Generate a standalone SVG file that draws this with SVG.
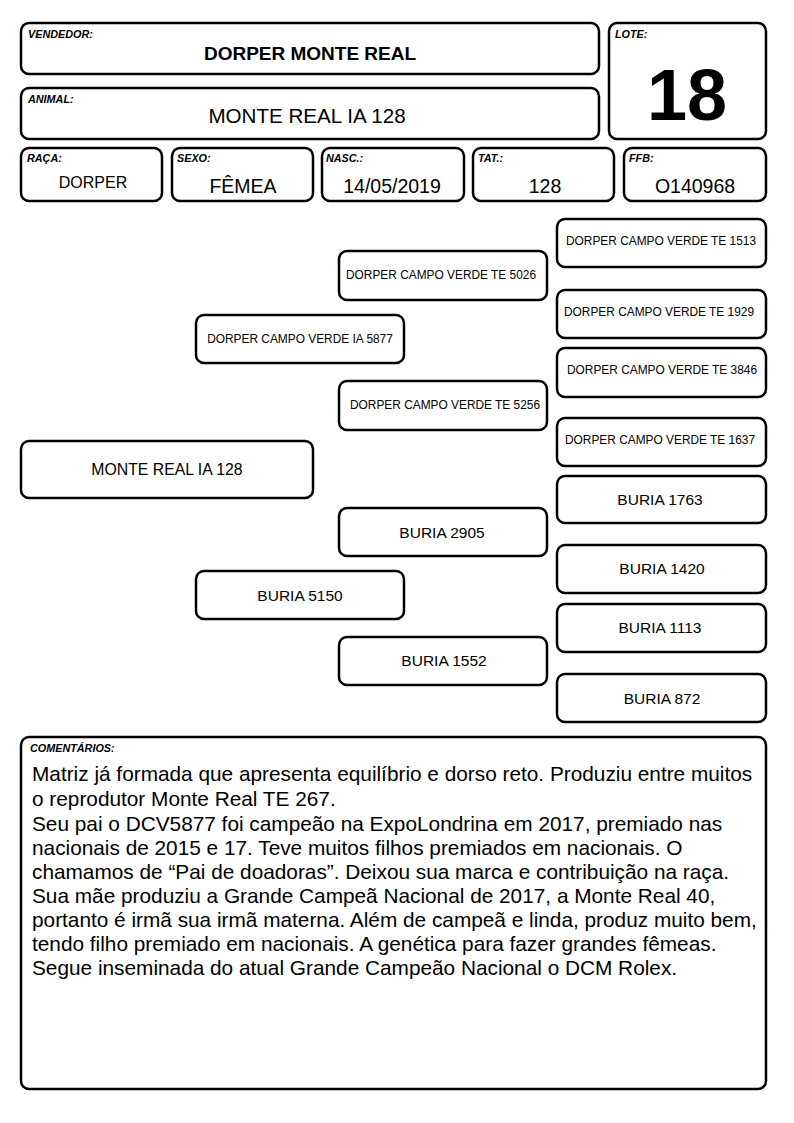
<svg xmlns="http://www.w3.org/2000/svg" width="794" height="1123" viewBox="0 0 794 1123">
<style>
.b{fill:#fff;stroke:#000;stroke-width:2.5}
.lb{font-family:"Liberation Sans",Arial,sans-serif;font-size:10.8px;font-weight:bold;font-style:italic}
.t{font-family:"Liberation Sans",Arial,sans-serif;text-anchor:middle}
.s{font-size:11.9px}
.m{font-size:15.5px}
.h{font-size:19.5px}
.c{font-family:"Liberation Sans",Arial,sans-serif;font-size:20.8px}
</style>
<rect width="794" height="1123" fill="#fff"/>
<g id="vendedor"><rect class="b" x="21" y="23" width="578" height="51" rx="8"/><text class="lb" x="28" y="38">VENDEDOR:</text><text class="t" x="310" y="60" font-size="19" font-weight="bold">DORPER MONTE REAL</text></g>
<g id="lote"><rect class="b" x="609" y="23" width="157" height="116" rx="8"/><text class="lb" x="615" y="38">LOTE:</text><text class="t" x="687" y="120" font-size="72" font-weight="bold">18</text></g>
<g id="animal"><rect class="b" x="21" y="88" width="578" height="51" rx="8"/><text class="lb" x="28" y="103">ANIMAL:</text><text class="t" x="307" y="123" font-size="20.6">MONTE REAL IA 128</text></g>
<g id="raca"><rect class="b" x="21" y="148" width="141" height="53" rx="8"/><text class="lb" x="27" y="162">RAÇA:</text><text class="t" x="93" y="188" font-size="16">DORPER</text></g>
<g id="sexo"><rect class="b" x="172" y="148" width="141" height="53" rx="8"/><text class="lb" x="177" y="162">SEXO:</text><text class="t h" x="243" y="193">FÊMEA</text></g>
<g id="nasc"><rect class="b" x="322" y="148" width="142" height="53" rx="8"/><text class="lb" x="326" y="162">NASC.:</text><text class="t h" x="392" y="193">14/05/2019</text></g>
<g id="tat"><rect class="b" x="473" y="148" width="141" height="53" rx="8"/><text class="lb" x="478" y="162">TAT.:</text><text class="t h" x="545" y="193">128</text></g>
<g id="ffb"><rect class="b" x="624" y="148" width="142" height="53" rx="8"/><text class="lb" x="629" y="162">FFB:</text><text class="t h" x="695" y="193">O140968</text></g>
<g id="connectors"></g>
<g id="p0"><rect class="b" x="21" y="441" width="292" height="57" rx="8"/><text class="t" x="167" y="475" font-size="15.8">MONTE REAL IA 128</text></g>
<g id="p1"><rect class="b" x="196" y="315" width="208" height="48" rx="8"/><text class="t s" x="300" y="343">DORPER CAMPO VERDE IA 5877</text></g>
<g id="p2"><rect class="b" x="196" y="571" width="208" height="48" rx="8"/><text class="t m" x="300" y="601">BURIA 5150</text></g>
<g id="p3"><rect class="b" x="339" y="251" width="208" height="49" rx="8"/><text class="t s" x="441" y="279">DORPER CAMPO VERDE TE 5026</text></g>
<g id="p4"><rect class="b" x="339" y="381" width="208" height="49" rx="8"/><text class="t s" x="445" y="409">DORPER CAMPO VERDE TE 5256</text></g>
<g id="p5"><rect class="b" x="339" y="508" width="208" height="48" rx="8"/><text class="t m" x="442" y="538">BURIA 2905</text></g>
<g id="p6"><rect class="b" x="339" y="637" width="208" height="48" rx="8"/><text class="t m" x="444" y="666">BURIA 1552</text></g>
<g id="p7"><rect class="b" x="557" y="219" width="209" height="48" rx="8"/><text class="t s" x="661" y="245">DORPER CAMPO VERDE TE 1513</text></g>
<g id="p8"><rect class="b" x="557" y="290" width="209" height="48" rx="8"/><text class="t s" x="659" y="316">DORPER CAMPO VERDE TE 1929</text></g>
<g id="p9"><rect class="b" x="557" y="348" width="209" height="49" rx="8"/><text class="t s" x="662" y="374">DORPER CAMPO VERDE TE 3846</text></g>
<g id="p10"><rect class="b" x="557" y="418" width="209" height="48" rx="8"/><text class="t s" x="660" y="444">DORPER CAMPO VERDE TE 1637</text></g>
<g id="p11"><rect class="b" x="557" y="476" width="209" height="47" rx="8"/><text class="t m" x="660" y="505">BURIA 1763</text></g>
<g id="p12"><rect class="b" x="557" y="545" width="209" height="48" rx="8"/><text class="t m" x="662" y="574">BURIA 1420</text></g>
<g id="p13"><rect class="b" x="557" y="604" width="209" height="48" rx="8"/><text class="t m" x="660" y="633">BURIA 1113</text></g>
<g id="p14"><rect class="b" x="557" y="674" width="209" height="48" rx="8"/><text class="t m" x="662" y="704">BURIA 872</text></g>
<g id="comentarios"><rect class="b" x="21" y="737" width="745" height="352" rx="8"/><text class="lb" x="30" y="752">COMENTÁRIOS:</text>
<text class="c"><tspan x="32" y="781">Matriz já formada que apresenta equilíbrio e dorso reto. Produziu entre muitos</tspan><tspan x="32" y="806">o reprodutor Monte Real TE 267.</tspan><tspan x="32" y="831">Seu pai o DCV5877 foi campeão na ExpoLondrina em 2017, premiado nas</tspan><tspan x="32" y="855">nacionais de 2015 e 17. Teve muitos filhos premiados em nacionais. O</tspan><tspan x="32" y="879">chamamos de “Pai de doadoras”. Deixou sua marca e contribuição na raça.</tspan><tspan x="32" y="903">Sua mãe produziu a Grande Campeã Nacional de 2017, a Monte Real 40,</tspan><tspan x="32" y="927">portanto é irmã sua irmã materna. Além de campeã e linda, produz muito bem,</tspan><tspan x="32" y="951">tendo filho premiado em nacionais. A genética para fazer grandes fêmeas.</tspan><tspan x="32" y="975">Segue inseminada do atual Grande Campeão Nacional o DCM Rolex.</tspan></text></g>
</svg>
